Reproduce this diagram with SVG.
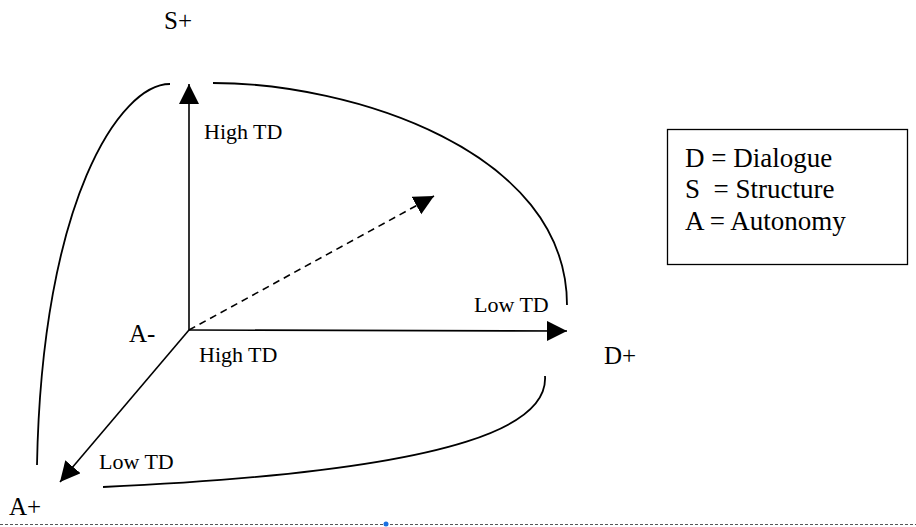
<svg xmlns="http://www.w3.org/2000/svg" width="916" height="527" viewBox="0 0 916 527">
  <style>
    .lbl { font-family: "Liberation Serif", "Times New Roman", serif; fill: #000; }
    .big { font-size: 25px; }
    .sm { font-size: 22px; }
    .leg { font-size: 27px; }
    .axis { stroke: #000; stroke-width: 1.6; fill: none; }
    .arc { stroke: #000; stroke-width: 1.8; fill: none; }
  </style>
  <defs>
    <marker id="head" markerUnits="userSpaceOnUse" markerWidth="22" markerHeight="22" refX="20" refY="10" orient="auto">
      <path d="M0,0 L20,10 L0,20 Z" fill="#000"/>
    </marker>
  </defs>
  <rect width="916" height="527" fill="#fff"/>

  <!-- enclosing curves -->
  <g id="curves">
    <path class="arc" d="M170,84 C120,84 42,200 37,465"/>
    <path class="arc" d="M213,83 C350,83 567,150 567,305"/>
    <path class="arc" d="M545,376 C548,420 480,470 103,487"/>
  </g>

  <!-- axes -->
  <g id="connectors">
    <path class="axis" d="M189,330 L189,84" marker-end="url(#head)"/>
    <path class="axis" d="M189,330 L567,331" marker-end="url(#head)"/>
    <path class="axis" d="M189,330 L60,482" marker-end="url(#head)"/>
    <path class="axis" d="M189,330 L434,196" stroke-dasharray="7,5" marker-end="url(#head)"/>
  </g>

  <g id="s-plus"><text class="lbl big" x="164" y="29">S+</text></g>
  <g id="d-plus"><text class="lbl big" x="604" y="364">D+</text></g>
  <g id="a-minus"><text class="lbl big" x="129" y="342">A-</text></g>
  <g id="a-plus"><text class="lbl big" x="9" y="515">A+</text></g>

  <g id="s-high"><text class="lbl sm" x="204" y="139">High TD</text></g>
  <g id="d-high"><text class="lbl sm" x="199" y="362">High TD</text></g>
  <g id="d-low"><text class="lbl sm" x="474" y="312">Low TD</text></g>
  <g id="a-low"><text class="lbl sm" x="99" y="469">Low TD</text></g>

  <g id="legend">
    <rect x="667.5" y="129.5" width="240" height="135" fill="none" stroke="#000" stroke-width="1.3"/>
    <text class="lbl leg" x="685" y="167">D = Dialogue</text>
    <text class="lbl leg" x="685" y="198" xml:space="preserve">S  = Structure</text>
    <text class="lbl leg" x="685" y="230">A = Autonomy</text>
  </g>

  <!-- page break rule -->
  <line x1="0" y1="524.5" x2="916" y2="524.5" stroke="#555" stroke-width="1" stroke-dasharray="3,2"/>
  <circle cx="386" cy="524" r="2.5" fill="#1a6fe0"/>
</svg>
